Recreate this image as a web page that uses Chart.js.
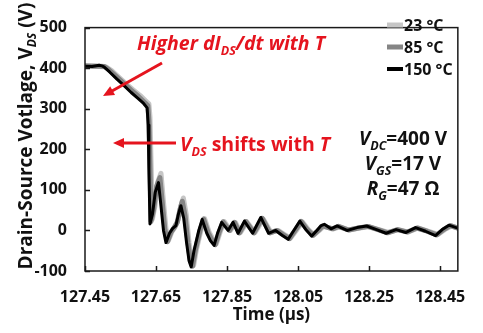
<!DOCTYPE html>
<html>
<head>
<meta charset="utf-8">
<script src="https://cdn.jsdelivr.net/npm/chart.js@4/dist/chart.umd.min.js"></script>
<style>
  html, body { margin: 0; padding: 0; background: #fff; }
  canvas { display: block; }
</style>
</head>
<body>
<canvas id="chart" width="483" height="333"></canvas>
<script>
// tick labels
const xTicks = [127.45, 127.65, 127.85, 128.05, 128.25, 128.45];
const yTicks = [-100, 0, 100, 200, 300, 400, 500];
const seriesNames = ['23 °C', '85 °C', '150 °C'];

// 150 °C (black)
const time150 = [127.45, 127.47, 127.49, 127.50, 127.505, 127.52, 127.54, 127.56, 127.58, 127.60,
  127.615, 127.625, 127.628, 127.630, 127.633, 127.640, 127.648, 127.657, 127.664, 127.671,
  127.678, 127.688, 127.697, 127.706, 127.713, 127.720, 127.728, 127.736, 127.743, 127.749,
  127.757, 127.7705, 127.780, 127.793, 127.803, 127.8136, 127.824, 127.835, 127.853, 127.867,
  127.881, 127.899, 127.922, 127.945, 127.967, 127.987, 128.005, 128.022, 128.038, 128.055,
  128.072, 128.088, 128.103, 128.115, 128.124, 128.143, 128.160, 128.188, 128.216, 128.243,
  128.271, 128.298, 128.326, 128.354, 128.381, 128.409, 128.437, 128.456, 128.475, 128.502];
const volt150 = [405, 404, 407, 405, 402, 390, 373, 357, 340, 325,
  313, 302, 260, 150, 16, 40, 95, 118, 60, 0,
  -30, -7, 5, 12, 40, 61, 30, -30, -75, -90,
  -50, 0, 27, -7, -25, -37, -5, 20, 0, 20,
  -7, 23, -7, 32, -7, 0, -12, -22, 0, 23,
  2, -14, 0, 12, 15, 4, 11, 0, 7, 11,
  2, -7, 2, -5, 7, -2, -13, 2, 13, 5];

// 85 °C (grey)
const time85 = [127.45, 127.47, 127.49, 127.505, 127.515, 127.54, 127.56, 127.58, 127.60, 127.615,
  127.627, 127.630, 127.633, 127.636, 127.643, 127.652, 127.661, 127.668, 127.675, 127.682,
  127.692, 127.701, 127.710, 127.717, 127.724, 127.732, 127.740, 127.747, 127.753, 127.761,
  127.774, 127.784, 127.797, 127.807, 127.817, 127.828, 127.839, 127.857, 127.871, 127.885,
  127.903, 127.926, 127.949, 127.971, 127.991, 128.009, 128.026, 128.042, 128.059, 128.076,
  128.092, 128.107, 128.119, 128.147, 128.164, 128.192, 128.220, 128.247, 128.275, 128.302,
  128.330, 128.358, 128.385, 128.413, 128.441, 128.460, 128.479, 128.502];
const volt85 = [406, 405, 405, 404, 398, 378, 362, 346, 331, 318,
  308, 270, 160, 22, 50, 110, 130, 65, 2, -28,
  -5, 7, 20, 50, 72, 35, -30, -75, -88, -48,
  0, 28, -6, -23, -35, -4, 21, 0, 20, -6,
  22, -6, 30, -6, 0, -11, -20, 0, 22, 2,
  -12, 0, 11, 4, 10, 1, 6, 10, 2, -6,
  2, -4, 6, -2, -11, 2, 12, 5];

// 23 °C (light grey)
const time23 = [127.45, 127.47, 127.49, 127.51, 127.525, 127.545, 127.565, 127.585, 127.605, 127.62,
  127.630, 127.633, 127.636, 127.640, 127.647, 127.655, 127.664, 127.671, 127.678, 127.685,
  127.695, 127.704, 127.713, 127.720, 127.727, 127.735, 127.743, 127.750, 127.756, 127.764,
  127.777, 127.787, 127.800, 127.810, 127.820, 127.831, 127.842, 127.860, 127.874, 127.888,
  127.906, 127.929, 127.952, 127.974, 127.994, 128.012, 128.029, 128.045, 128.062, 128.079,
  128.095, 128.110, 128.122, 128.150, 128.167, 128.195, 128.223, 128.250, 128.278, 128.305,
  128.333, 128.361, 128.388, 128.416, 128.444, 128.463, 128.482, 128.502];
const volt23 = [405, 406, 404, 403, 394, 378, 362, 347, 333, 320,
  312, 280, 170, 28, 60, 120, 141, 70, 5, -25,
  -3, 9, 28, 60, 80, 40, -30, -72, -86, -46,
  2, 29, -5, -21, -33, -3, 22, 0, 19, -5,
  21, -5, 28, -5, 0, -10, -19, 0, 21, 2,
  -11, 0, 10, 4, 9, 1, 6, 9, 2, -5,
  2, -4, 6, -2, -10, 2, 11, 5];

const colors = ['#c6c6c6', '#858585', '#000000'];
const widths = [5, 5, 3];

function toPoints(ts, vs) {
  return ts.map((t, i) => ({ x: t, y: vs[i] }));
}

const FONT = "'Open Sans', 'DejaVu Sans', sans-serif";
const RED = '#e5141e';

// draws a row of text pieces (subscripts etc.)
function drawRich(ctx, parts, x, y, align) {
  let total = 0;
  parts.forEach(p => { ctx.font = p.font; total += ctx.measureText(p.text).width; });
  let cx = align === 'center' ? x - total / 2 : x;
  ctx.textAlign = 'left';
  ctx.textBaseline = 'alphabetic';
  parts.forEach(p => {
    ctx.font = p.font;
    ctx.fillStyle = p.color || ctx.fillStyle;
    ctx.fillText(p.text, cx, y + (p.dy || 0));
    cx += ctx.measureText(p.text).width;
  });
}

function arrow(ctx, x1, y1, x2, y2) {
  const a = Math.atan2(y2 - y1, x2 - x1);
  const hl = 11, hw = 5;
  ctx.strokeStyle = RED;
  ctx.fillStyle = RED;
  ctx.lineWidth = 3;
  ctx.beginPath();
  ctx.moveTo(x1, y1);
  ctx.lineTo(x2 - Math.cos(a) * hl * 0.8, y2 - Math.sin(a) * hl * 0.8);
  ctx.stroke();
  ctx.beginPath();
  ctx.moveTo(x2, y2);
  ctx.lineTo(x2 - Math.cos(a) * hl - Math.sin(a) * hw, y2 - Math.sin(a) * hl + Math.cos(a) * hw);
  ctx.lineTo(x2 - Math.cos(a) * hl + Math.sin(a) * hw, y2 - Math.sin(a) * hl - Math.cos(a) * hw);
  ctx.closePath();
  ctx.fill();
}

const extras = {
  id: 'extras',
  afterDraw(chart) {
    const ctx = chart.ctx;
    const area = chart.chartArea;
    const xs = chart.scales.x, ys = chart.scales.y;
    ctx.save();

    // frame + inward ticks
    ctx.strokeStyle = '#1a1a1a';
    ctx.lineWidth = 1.5;
    ctx.strokeRect(area.left, area.top, area.right - area.left, area.bottom - area.top);
    ctx.beginPath();
    xTicks.forEach(v => {
      const px = Math.round(xs.getPixelForValue(v)) + 0.5;
      ctx.moveTo(px, area.bottom);
      ctx.lineTo(px, area.bottom - 5);
    });
    yTicks.forEach(v => {
      const py = Math.round(ys.getPixelForValue(v)) + 0.5;
      ctx.moveTo(area.left, py);
      ctx.lineTo(area.left + 5, py);
    });
    ctx.stroke();

    // axis titles
    ctx.fillStyle = '#111';
    drawRich(ctx, [{ text: 'Time (µs)', font: 'bold 17px ' + FONT }], (area.left + area.right) / 2, 320, 'center');
    ctx.save();
    ctx.translate(32, 136);
    ctx.rotate(-Math.PI / 2);
    drawRich(ctx, [
      { text: 'Drain-Source Votlage, V', font: 'bold 19px ' + FONT },
      { text: 'DS', font: 'italic bold 12px ' + FONT, dy: 4 },
      { text: ' (V)', font: 'bold 19px ' + FONT }
    ], 0, 0, 'center');
    ctx.restore();

    // legend
    chart.data.datasets.forEach((ds, i) => {
      const y = 25 + i * 22;
      ctx.strokeStyle = colors[i];
      ctx.lineWidth = i === 2 ? 4 : 5;
      ctx.beginPath();
      ctx.moveTo(387, y);
      ctx.lineTo(403, y);
      ctx.stroke();
      ctx.fillStyle = '#111';
      ctx.font = 'bold 16px ' + FONT;
      ctx.textAlign = 'left';
      ctx.textBaseline = 'middle';
      ctx.fillText(seriesNames[i], 404, y + 1);
    });

    // red annotations
    const ib = 'italic bold 19.5px ' + FONT;
    const sub = 'italic bold 12.5px ' + FONT;
    drawRich(ctx, [
      { text: 'Higher dI', font: ib, color: RED },
      { text: 'DS', font: sub, dy: 5, color: RED },
      { text: '/dt with T', font: ib, color: RED }
    ], 137, 50, 'left');
    arrow(ctx, 162, 63, 103, 96);
    drawRich(ctx, [
      { text: 'V', font: ib, color: RED },
      { text: 'DS', font: sub, dy: 5, color: RED },
      { text: ' shifts with ', font: 'bold 19.5px ' + FONT, color: RED },
      { text: 'T', font: ib, color: RED }
    ], 180, 151, 'left');
    arrow(ctx, 176, 143, 113, 143);

    // test conditions
    const b19 = 'bold 19px ' + FONT, i19 = 'italic bold 19px ' + FONT, s12 = 'italic bold 12.5px ' + FONT;
    drawRich(ctx, [{ text: 'V', font: i19, color: '#111' }, { text: 'DC', font: s12, dy: 5 }, { text: '=400 V', font: b19 }], 403, 145, 'center');
    drawRich(ctx, [{ text: 'V', font: i19 }, { text: 'GS', font: s12, dy: 5 }, { text: '=17 V', font: b19 }], 403, 170, 'center');
    drawRich(ctx, [{ text: 'R', font: i19 }, { text: 'G', font: s12, dy: 5 }, { text: '=47 Ω', font: b19 }], 403, 195, 'center');

    ctx.restore();
  }
};

new Chart(document.getElementById('chart'), {
  type: 'line',
  data: {
    datasets: [
      { label: seriesNames[0], data: toPoints(time23, volt23), borderColor: colors[0], borderWidth: widths[0], order: 3 },
      { label: seriesNames[1], data: toPoints(time85, volt85), borderColor: colors[1], borderWidth: widths[1], order: 2 },
      { label: seriesNames[2], data: toPoints(time150, volt150), borderColor: colors[2], borderWidth: widths[2], order: 1 }
    ]
  },
  options: {
    responsive: false,
    animation: false,
    devicePixelRatio: 1,
    layout: { padding: { left: 0, top: 7, right: 16, bottom: 0 } },
    elements: {
      point: { radius: 0 },
      line: { tension: 0, borderJoinStyle: 'round', borderCapStyle: 'round' }
    },
    plugins: {
      legend: { display: false },
      tooltip: { enabled: false }
    },
    scales: {
      x: {
        type: 'linear',
        min: 127.45,
        max: 128.5,
        afterBuildTicks: (scale) => { scale.ticks = xTicks.map(v => ({ value: v })); },
        afterFit: (scale) => { scale.height = 62; },
        grid: { display: false, drawTicks: false },
        border: { display: false },
        ticks: {
          padding: 17,
          color: '#111',
          font: { family: FONT, size: 16, weight: 'bold' },
          callback: (v) => v.toFixed(2),
          maxRotation: 0,
          autoSkip: false
        }
      },
      y: {
        min: -100,
        max: 500,
        afterBuildTicks: (scale) => { scale.ticks = yTicks.map(v => ({ value: v })); },
        afterFit: (scale) => { scale.width = 85; },
        grid: { display: false, drawTicks: false },
        border: { display: false },
        ticks: {
          padding: 18,
          color: '#111',
          font: { family: FONT, size: 16, weight: 'bold' }
        }
      }
    }
  },
  plugins: [extras]
});
</script>
</body>
</html>
